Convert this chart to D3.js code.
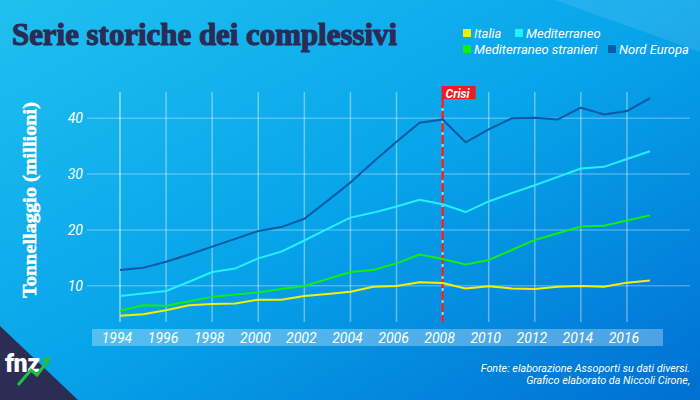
<!DOCTYPE html>
<html><head><meta charset="utf-8">
<script src="https://cdn.jsdelivr.net/npm/d3@7"></script>
<style>html,body{margin:0;padding:0;overflow:hidden;background:#0a9ae6}</style>
</head><body>
<svg id="c" width="700" height="400"></svg>
<script>
const years = d3.range(1994, 2018);
const italia = [4.6,4.9,5.6,6.5,6.7,6.8,7.5,7.5,8.15,8.5,8.9,9.8,9.95,10.6,10.5,9.5,9.9,9.5,9.4,9.8,9.95,9.8,10.55,10.95];
const mediterraneo = [8.15,8.6,9.05,10.7,12.45,13.1,14.9,16.1,18.1,20.2,22.2,23.1,24.2,25.4,24.6,23.2,25.1,26.6,28.0,29.5,31.0,31.3,32.7,34.1];
const stranieri = [5.5,6.5,6.4,7.2,8.0,8.4,8.8,9.4,9.95,11.2,12.45,12.8,14.0,15.6,14.8,13.8,14.6,16.4,18.2,19.4,20.6,20.75,21.7,22.6];
const nord = [12.8,13.2,14.3,15.6,17.0,18.4,19.8,20.5,22.0,25.2,28.5,32.2,35.8,39.2,39.8,35.7,38.0,40.0,40.1,39.8,41.9,40.7,41.3,43.6];
const xTicks = d3.range(1994, 2017, 2);
const yTicks = [10, 20, 30, 40];
const seriesNames = ["Italia","Mediterraneo","Mediterraneo stranieri","Nord Europa"];
const seriesColors = ["#f2f200","#22f0ff","#11ee11","#0b5aa6"];
const seriesData = [italia, mediterraneo, stranieri, nord];
const crisisYear = 2008;

const svg = d3.select("#c");
const defs = svg.append("defs");
const g = defs.append("linearGradient").attr("id","bg").attr("x1","0").attr("y1","0").attr("x2","1").attr("y2","1");
g.append("stop").attr("offset","0%").attr("stop-color","#20c0f0");
g.append("stop").attr("offset","50%").attr("stop-color","#07a4ea");
g.append("stop").attr("offset","100%").attr("stop-color","#006fd3");
svg.append("rect").attr("width",700).attr("height",400).attr("fill","url(#bg)");
svg.append("polygon").attr("points","555,0 700,0 700,52").attr("fill","#ffffff").attr("opacity",0.1);
svg.append("polygon").attr("points","0,326 78,400 0,400").attr("fill","#2b2d55");

const x = d3.scaleLinear().domain([1994, 2017]).range([120, 650]);
const y = d3.scaleLinear().domain([0, 40]).range([341.5, 118.3]);

svg.append("g").selectAll("line").data(yTicks).join("line")
  .attr("x1",87).attr("x2",690).attr("y1",d=>y(d)).attr("y2",d=>y(d))
  .attr("stroke","#ffffff").attr("stroke-opacity",0.28).attr("stroke-width",1.5);
svg.append("g").selectAll("line").data(xTicks.filter(d=>d!==crisisYear)).join("line")
  .attr("x1",d=>x(d)).attr("x2",d=>x(d)).attr("y1",92).attr("y2",322)
  .attr("stroke","#ffffff").attr("stroke-opacity",d=>d===1994?0.55:0.38).attr("stroke-width",1.5);

svg.append("g").selectAll("text").data(yTicks).join("text")
  .attr("x",83).attr("y",d=>y(d)+5).attr("text-anchor","end")
  .attr("font-family","Roboto").attr("font-style","italic").attr("font-size",14)
  .attr("fill","#ffffff").text(d=>d);

svg.append("rect").attr("x",92).attr("y",329).attr("width",571).attr("height",17)
  .attr("fill","#ffffff").attr("fill-opacity",0.3);
svg.append("g").selectAll("text").data(xTicks).join("text")
  .attr("x",d=>x(d)-3).attr("y",342.5).attr("text-anchor","middle")
  .attr("font-family","Roboto").attr("font-style","italic").attr("font-size",14)
  .attr("fill","#ffffff").text(d=>d);

const cx = x(crisisYear);
svg.append("line").attr("x1",cx).attr("x2",cx).attr("y1",99).attr("y2",322)
  .attr("stroke","#8fdcf5").attr("stroke-width",2);
svg.append("line").attr("x1",cx).attr("x2",cx).attr("y1",99).attr("y2",322)
  .attr("stroke","#e8202a").attr("stroke-width",2.5).attr("stroke-dasharray","9,3");
svg.append("rect").attr("x",cx-1).attr("y",86).attr("width",34).attr("height",13).attr("fill","#f01a22");
svg.append("text").attr("x",cx+3).attr("y",97.5).attr("font-family","Roboto").attr("font-weight","bold")
  .attr("font-style","italic").attr("font-size",12).attr("fill","#ffffff").text("Crisi");

const line = d3.line().x((d,i)=>x(years[i])).y(d=>y(d));
svg.append("g").selectAll("path").data(seriesData).join("path")
  .attr("d",d=>line(d)).attr("fill","none")
  .attr("stroke",(d,i)=>seriesColors[i]).attr("stroke-width",2).attr("stroke-linejoin","round");

svg.append("text").attr("x",12).attr("y",45).attr("font-family","Liberation Serif")
  .attr("font-weight","bold").attr("font-size",31).attr("fill","#2a2c55")
  .attr("stroke","#2a2c55").attr("stroke-width",1.2).attr("stroke-linejoin","round")
  .attr("textLength",385).attr("lengthAdjust","spacingAndGlyphs").text("Serie storiche dei complessivi");

svg.append("text").attr("transform","translate(36,200) rotate(-90)").attr("text-anchor","middle")
  .attr("font-family","Liberation Serif").attr("font-weight","bold").attr("font-size",18)
  .attr("fill","#ffffff").attr("stroke","#ffffff").attr("stroke-width",0.5)
  .attr("textLength",196).attr("lengthAdjust","spacingAndGlyphs")
  .text("Tonnellaggio (millioni)");

const legPos = [[463,29],[515,29],[463,45],[608,45]];
const leg = svg.append("g");
seriesNames.forEach((n,i)=>{
  const [lx,ly] = legPos[i];
  leg.append("rect").attr("x",lx).attr("y",ly).attr("width",8).attr("height",8).attr("fill",seriesColors[i]);
  leg.append("text").attr("x",lx+11).attr("y",ly+9).attr("font-family","Roboto").attr("font-style","italic")
    .attr("font-size",13).attr("fill","#ffffff").text(n);
});

const foot = svg.append("g").attr("font-family","Roboto").attr("font-style","italic").attr("font-size",10.8)
  .attr("fill","#ffffff").attr("text-anchor","end");
foot.append("text").attr("x",690).attr("y",372).text("Fonte: elaborazione Assoporti su dati diversi.");
foot.append("text").attr("x",690).attr("y",384).text("Grafico elaborato da Niccoli Cirone,");

svg.append("text").attr("x",5).attr("y",372).attr("font-family","Roboto").attr("font-weight","900")
  .attr("font-size",25).attr("fill","#ffffff").attr("letter-spacing",-0.5).text("fnz");
svg.append("polyline").attr("points","18,385 31,370 37,375 47,362").attr("fill","none")
  .attr("stroke","#1fbf4a").attr("stroke-width",3).attr("stroke-linejoin","miter");
svg.append("polygon").attr("points","51,356 41,359 48,366").attr("fill","#1fbf4a");
</script>
</body></html>
